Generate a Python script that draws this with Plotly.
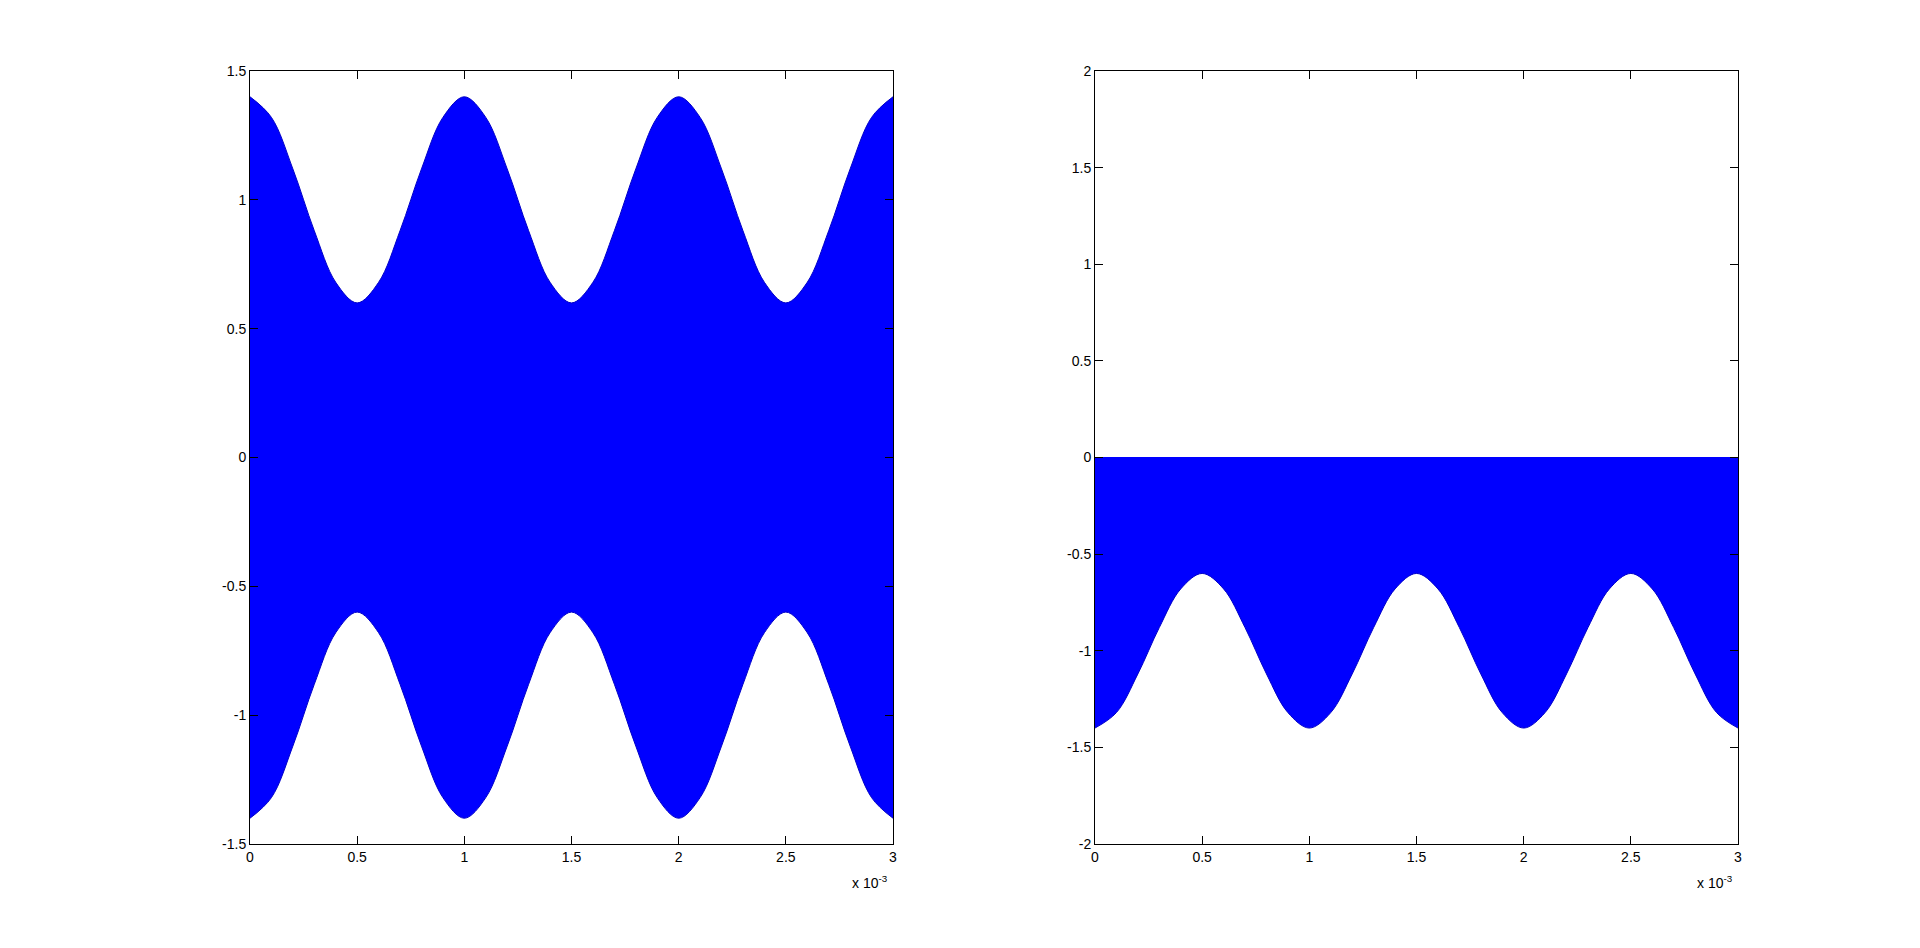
import plotly.graph_objects as go

# time samples (s) and envelope magnitude
t = [i * 0.0001 for i in range(31)]
envelope = [1.40, 1.32, 1.12, 0.88, 0.68, 0.60, 0.68, 0.88, 1.12, 1.32,
            1.40, 1.32, 1.12, 0.88, 0.68, 0.60, 0.68, 0.88, 1.12, 1.32,
            1.40, 1.32, 1.12, 0.88, 0.68, 0.60, 0.68, 0.88, 1.12, 1.32,
            1.40]
upper_left = envelope
lower_left = [-v for v in envelope]
top_right = [0.0 for _ in envelope]
bottom_right = [-v for v in envelope]

x_tickvals = [0, 0.0005, 0.001, 0.0015, 0.002, 0.0025, 0.003]
x_ticktext = ["0", "0.5", "1", "1.5", "2", "2.5", "3"]
yl_tickvals = [-1.5, -1, -0.5, 0, 0.5, 1, 1.5]
yl_ticktext = ["-1.5", "-1", "-0.5", "0", "0.5", "1", "1.5"]
yr_tickvals = [-2, -1.5, -1, -0.5, 0, 0.5, 1, 1.5, 2]
yr_ticktext = ["-2", "-1.5", "-1", "-0.5", "0", "0.5", "1", "1.5", "2"]

BLUE = "#0000FF"
EDGE = "#0000C8"
fig = go.Figure()
fig.add_trace(go.Scatter(x=t, y=lower_left, mode="lines", line=dict(color=EDGE, width=1, shape="spline"),
                         xaxis="x", yaxis="y", showlegend=False, hoverinfo="skip"))
fig.add_trace(go.Scatter(x=t, y=upper_left, mode="lines", line=dict(color=EDGE, width=1, shape="spline"),
                         fill="tonexty", fillcolor=BLUE, xaxis="x", yaxis="y", showlegend=False, hoverinfo="skip"))
fig.add_trace(go.Scatter(x=t, y=top_right, mode="lines", line=dict(color=BLUE, width=1),
                         xaxis="x2", yaxis="y2", showlegend=False, hoverinfo="skip"))
fig.add_trace(go.Scatter(x=t, y=bottom_right, mode="lines", line=dict(color=EDGE, width=1, shape="spline"),
                         fill="tonexty", fillcolor=BLUE, xaxis="x2", yaxis="y2", showlegend=False, hoverinfo="skip"))

W, H = 1920, 948
font = dict(family="Liberation Sans, Arial, sans-serif", size=14, color="black")
common = dict(showgrid=False, zeroline=False, showline=True, linecolor="black", linewidth=1,
              mirror="ticks", ticks="inside", ticklen=8, tickcolor="black", tickwidth=1,
              tickfont=font, automargin=False)

yd = [1 - 844 / H, 1 - 71 / H]
fig.update_layout(
    width=W, height=H, autosize=False,
    margin=dict(l=0, r=0, t=0, b=0, pad=0),
    paper_bgcolor="white", plot_bgcolor="white",
    xaxis=dict(domain=[250 / W, 893 / W], range=[0, 0.003], tickvals=x_tickvals, ticktext=x_ticktext,
               anchor="y", **common),
    yaxis=dict(domain=yd, range=[-1.5, 1.5], tickvals=yl_tickvals, ticktext=yl_ticktext,
               anchor="x", **common),
    xaxis2=dict(domain=[1095 / W, 1738 / W], range=[0, 0.003], tickvals=x_tickvals, ticktext=x_ticktext,
                anchor="y2", **common),
    yaxis2=dict(domain=yd, range=[-2, 2], tickvals=yr_tickvals, ticktext=yr_ticktext,
                anchor="x2", **common),
)

for xr in (890, 1735):
    fig.add_annotation(x=xr / W, y=1 - 893 / H, xref="paper", yref="paper",
                       xanchor="right", yanchor="bottom", showarrow=False,
                       text="x 10<sup>-3</sup>", font=dict(family=font["family"], size=14, color="black"))

fig.write_html("out.html", config={"displayModeBar": False},
               post_script="document.body.style.margin='0';document.body.style.overflow='hidden';")
